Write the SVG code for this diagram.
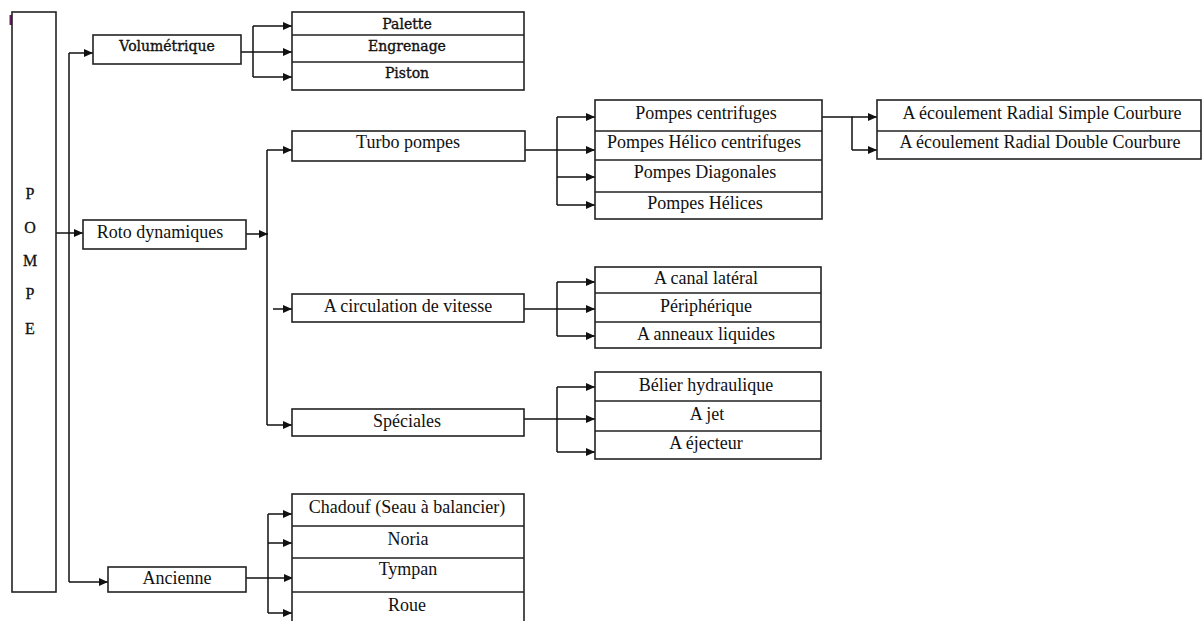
<svg xmlns="http://www.w3.org/2000/svg" width="1203" height="621" viewBox="0 0 1203 621">
<style>
.box{fill:#fff;stroke:#222;stroke-width:1.6}
.div{stroke:#222;stroke-width:1.4;fill:none}
.t{font-family:"Liberation Serif","Times New Roman",serif;font-size:18px;fill:#111;text-anchor:middle}
.s{font-family:"DejaVu Serif",serif;font-size:14px;fill:#111;stroke:#111;stroke-width:0.35;text-anchor:middle}
.p{font-family:"Liberation Serif","Times New Roman",serif;font-size:16px;fill:#111;stroke:#111;stroke-width:0.3;text-anchor:middle}
.c{stroke:#111;stroke-width:1.5;fill:none}
.a{marker-end:url(#ah)}
</style>
<defs>
<marker id="ah" markerUnits="userSpaceOnUse" markerWidth="9" markerHeight="8" refX="9" refY="4" orient="auto">
<path d="M0,0 L9,4 L0,8 z" fill="#111"/>
</marker>
</defs>
<rect x="9.5" y="15" width="2.5" height="10" fill="#6b2060"/>
<g id="connectors">
<path class="c" d="M69,53 V582"/>
<path class="c a" d="M69,53 H93"/>
<path class="c a" d="M69,582 H108"/>
<path class="c a" d="M56,233 H83"/>
<path class="c" d="M241,52 H253 M253,26 V77"/>
<path class="c a" d="M253,26 H292"/>
<path class="c a" d="M253,52 H292"/>
<path class="c a" d="M253,77 H292"/>
<path class="c a" d="M246,234 H268"/>
<path class="c" d="M267,150 V425"/>
<path class="c a" d="M267,150 H292"/>
<path class="c a" d="M267,425 H292"/>
<path class="c a" d="M273,309 H292"/>
<path class="c a" d="M525,150 H595"/>
<path class="c" d="M557,117 V205"/>
<path class="c a" d="M557,117 H595"/>
<path class="c a" d="M557,177 H595"/>
<path class="c a" d="M557,205 H595"/>
<path class="c" d="M822,117 H852 V150"/>
<path class="c a" d="M852,117 H877"/>
<path class="c a" d="M852,150 H877"/>
<path class="c a" d="M524,309 H595"/>
<path class="c" d="M557,282 V336"/>
<path class="c a" d="M557,282 H595"/>
<path class="c a" d="M557,336 H595"/>
<path class="c a" d="M524,419 H595"/>
<path class="c" d="M557,387 V452"/>
<path class="c a" d="M557,387 H595"/>
<path class="c a" d="M557,452 H595"/>
<path class="c a" d="M246,578 H293"/>
<path class="c" d="M268,514 V613"/>
<path class="c a" d="M268,514 H292"/>
<path class="c a" d="M268,543 H292"/>
<path class="c a" d="M268,613 H292"/>
</g>
<g id="pompe">
<rect class="box" x="12" y="12" width="44" height="580"/>
<text class="p" x="30" y="199">P</text>
<text class="p" x="30" y="233">O</text>
<text class="p" x="30" y="266">M</text>
<text class="p" x="30" y="299">P</text>
<text class="p" x="30" y="334">E</text>
</g>
<g id="volumetrique">
<rect class="box" x="93" y="35" width="148" height="29"/>
<text class="s" x="167" y="51">Volumétrique</text>
</g>
<g id="volumetrique-types">
<rect class="box" x="292" y="12" width="232" height="78"/>
<path class="div" d="M292,35 H524 M292,62 H524"/>
<text class="s" x="407" y="29">Palette</text>
<text class="s" x="407" y="51">Engrenage</text>
<text class="s" x="407" y="78">Piston</text>
</g>
<g id="roto">
<rect class="box" x="83" y="220" width="163" height="29"/>
<text class="t" x="160" y="238">Roto dynamiques</text>
</g>
<g id="turbo">
<rect class="box" x="292" y="131" width="233" height="30"/>
<text class="t" x="408" y="148">Turbo pompes</text>
</g>
<g id="turbo-types">
<rect class="box" x="595" y="100" width="227" height="119"/>
<path class="div" d="M595,131 H822 M595,160 H822 M595,192 H822"/>
<text class="t" x="706" y="119">Pompes centrifuges</text>
<text class="t" x="704" y="148">Pompes Hélico centrifuges</text>
<text class="t" x="705" y="178">Pompes Diagonales</text>
<text class="t" x="705" y="209">Pompes Hélices</text>
</g>
<g id="ecoulement">
<rect class="box" x="877" y="100" width="324" height="59"/>
<path class="div" d="M877,131 H1201"/>
<text class="t" x="1042" y="119">A écoulement Radial Simple Courbure</text>
<text class="t" x="1040" y="148">A écoulement Radial Double Courbure</text>
</g>
<g id="circulation">
<rect class="box" x="292" y="294" width="232" height="28"/>
<text class="t" x="408" y="312">A circulation de vitesse</text>
</g>
<g id="circulation-types">
<rect class="box" x="595" y="267" width="226" height="81"/>
<path class="div" d="M595,293 H821 M595,322 H821"/>
<text class="t" x="706" y="284">A canal latéral</text>
<text class="t" x="706" y="312">Périphérique</text>
<text class="t" x="706" y="340">A anneaux liquides</text>
</g>
<g id="speciales">
<rect class="box" x="292" y="409" width="232" height="27"/>
<text class="t" x="407" y="427">Spéciales</text>
</g>
<g id="speciales-types">
<rect class="box" x="595" y="372" width="226" height="87"/>
<path class="div" d="M595,401 H821 M595,431 H821"/>
<text class="t" x="706" y="391">Bélier hydraulique</text>
<text class="t" x="707" y="420">A jet</text>
<text class="t" x="706" y="449">A éjecteur</text>
</g>
<g id="ancienne">
<rect class="box" x="108" y="567" width="138" height="25"/>
<text class="t" x="177" y="584">Ancienne</text>
</g>
<g id="ancienne-types">
<rect class="box" x="292" y="494" width="232" height="140"/>
<path class="div" d="M292,526 H524 M292,558 H524 M292,592 H524"/>
<text class="t" x="407" y="513">Chadouf (Seau à balancier)</text>
<text class="t" x="408" y="545">Noria</text>
<text class="t" x="408" y="575">Tympan</text>
<text class="t" x="407" y="611">Roue</text>
</g>
</svg>
